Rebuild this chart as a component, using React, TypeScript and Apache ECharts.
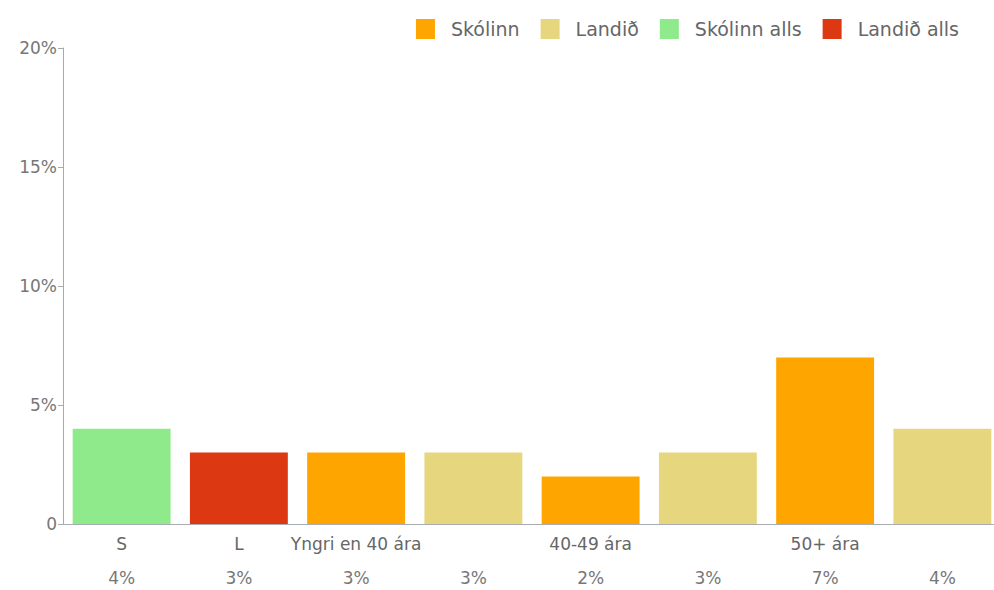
import React, { useEffect, useRef } from "react";
import * as echarts from "echarts";

const categories = ["S", "L", "Yngri en 40 ára", "", "40-49 ára", "", "50+ ára", ""];
const values = [4, 3, 3, 3, 2, 3, 7, 4];
const seriesNames = ["Skólinn", "Landið", "Skólinn alls", "Landið alls"];
// which series each bar belongs to (index into seriesNames)
const barSeries = [2, 3, 0, 1, 0, 1, 0, 1];
const colors = ["#FFA500", "#E6D67E", "#8FEA8C", "#DC3912"];
const yTicks = [0, 5, 10, 15, 20];

const FONT = "DejaVu Sans, Liberation Sans, Arial, sans-serif";

export default function App() {
  const ref = useRef<HTMLDivElement>(null);
  useEffect(() => {
    if (!ref.current) return;
    const chart = echarts.init(ref.current, undefined, { renderer: "svg" });
    const series = seriesNames.map((name, s) => ({
      name,
      type: "bar",
      stack: "all",
      barCategoryGap: "16.5%",
      itemStyle: { color: colors[s] },
      data: values.map((v, i) => (barSeries[i] === s ? v : null)),
    }));
    chart.setOption({
      animation: false,
      textStyle: { fontFamily: FONT },
      color: colors,
      legend: {
        data: seriesNames,
        right: 30,
        top: 14,
        itemWidth: 19,
        itemHeight: 20,
        itemGap: 21,
        icon: "rect",
        textStyle: { color: "#666", fontSize: 19, fontFamily: FONT, padding: [0, 0, 0, 11] },
      },
      grid: {
        left: 63,
        width: 938,
        top: 48,
        bottom: 66,
        containLabel: false,
        outerBoundsMode: "none",
      },
      xAxis: [
        {
          type: "category",
          data: categories,
          axisLine: { lineStyle: { color: "#a8adb3", width: 1 } },
          axisTick: {
            alignWithLabel: true,
            length: 5,
            interval: (_i: number, v: string) => v !== "",
            lineStyle: { color: "#a8adb3" },
          },
          axisLabel: { interval: 0, color: "#666", fontSize: 17, margin: 11, fontFamily: FONT },
        },
        {
          type: "category",
          data: values.map((v) => v + "%"),
          position: "bottom",
          offset: 34,
          axisLine: { show: false },
          axisTick: { show: false },
          axisLabel: { interval: 0, color: "#777", fontSize: 17, margin: 11, fontFamily: FONT },
        },
      ],
      yAxis: {
        type: "value",
        min: yTicks[0],
        max: yTicks[yTicks.length - 1],
        interval: 5,
        splitLine: { show: false },
        axisLine: { show: true, lineStyle: { color: "#aaa" } },
        axisTick: { show: true, length: 5, lineStyle: { color: "#aaa" } },
        axisLabel: {
          color: "#777",
          fontSize: 17,
          margin: 6,
          fontFamily: FONT,
          formatter: (v: number) => (v === 0 ? "0" : v + "%"),
        },
      },
      series,
    });
    return () => chart.dispose();
  }, []);
  return (
    <div
      ref={ref}
      style={{ position: "absolute", left: 0, top: 0, width: 994, height: 590, background: "#fff" }}
    />
  );
}
